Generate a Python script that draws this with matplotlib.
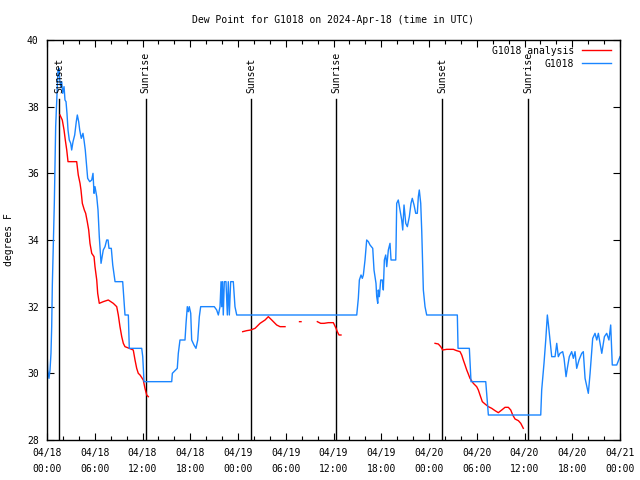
import numpy as np
import matplotlib
matplotlib.use("Agg")
import matplotlib.pyplot as plt
from matplotlib.ticker import MultipleLocator, FixedLocator

plt.rcParams['font.family'] = ['DejaVu Sans Mono']

# ---- data (hours since 2024-04-18 00:00 UTC) ----
obs_hours = [0.0, 0.09, 0.25, 0.38, 0.50, 0.59, 0.67, 0.79, 0.92, 1.09, 1.22, 1.38, 1.51, 1.60, 1.72,
             1.85, 1.97, 2.14, 2.26, 2.39, 2.51, 2.64, 2.80, 2.98, 3.10, 3.27, 3.48, 3.68, 3.81, 3.98,
             4.11, 4.31, 4.52, 4.65, 4.81, 4.99, 5.11, 5.37, 5.62, 5.78, 5.91, 6.03, 6.25, 6.41, 6.57,
             6.79, 7.07, 7.29, 7.50, 7.67, 7.79, 8.08, 8.26, 8.55, 9.51, 9.80, 10.22, 10.34, 11.90,
             12.03, 12.19, 15.67, 15.75, 16.37, 16.50, 16.71, 17.34, 17.47, 17.63, 17.76, 17.88,
             18.06, 18.18, 18.47, 18.72, 18.94, 19.14, 19.31, 21.02, 21.32, 21.53, 21.74, 21.87,
             21.95, 22.05, 22.15, 22.28, 22.49, 22.66, 22.78, 22.91, 23.08, 23.41, 23.62, 23.84,
             38.92, 39.12, 39.25, 39.46, 39.62, 39.75, 39.96, 40.17, 40.38, 40.59, 40.93, 41.09,
             41.34, 41.43, 41.56, 41.63, 41.76, 41.93, 42.13, 42.26, 42.39, 42.56, 42.69, 42.89,
             43.10, 43.23, 43.82, 43.86, 43.94, 44.14, 44.36, 44.57, 44.70, 44.86, 45.08, 45.28,
             45.53, 45.74, 45.90, 46.12, 46.33, 46.53, 46.66, 46.78, 46.96, 47.09, 47.29, 47.50,
             47.71, 51.56, 51.65, 53.07, 53.28, 55.13, 55.46, 62.04, 62.16, 62.45, 62.67, 62.87,
             62.99, 63.21, 63.42, 63.84, 64.05, 64.25, 64.46, 64.80, 64.97, 65.22, 65.38, 65.63,
             65.93, 66.14, 66.35, 66.56, 66.85, 67.19, 67.39, 67.61, 68.02, 68.24, 68.57, 68.86,
             69.08, 69.28, 69.71, 70.04, 70.33, 70.61, 70.83, 71.03, 71.59, 72.0]
obs_dewpt = [30.7, 30.1, 29.85, 30.1, 30.6, 31.4, 32.65, 33.85, 35.1, 37.4, 38.2, 39.1, 39.15, 38.8, 38.6,
             38.75, 38.4, 38.6, 38.2, 38.15, 37.8, 37.3, 37.0, 36.9, 36.7, 36.95, 37.15, 37.55, 37.75, 37.55,
             37.3, 37.05, 37.2, 37.0, 36.7, 36.2, 35.85, 35.75, 35.8, 36.0, 35.4, 35.6, 35.3, 34.9, 34.1,
             33.3, 33.7, 33.8, 34.0, 34.0, 33.75, 33.75, 33.25, 32.75, 32.75, 31.75, 31.75, 30.75, 30.75,
             30.5, 29.75, 29.75, 30.0, 30.15, 30.6, 31.0, 31.0, 31.5, 32.0, 31.85, 32.0,
             31.8, 31.0, 30.85, 30.75, 31.0, 31.7, 32.0, 32.0, 31.9, 31.75, 32.0, 32.75,
             32.0, 32.75, 31.75, 32.75, 32.75, 31.75, 32.75, 31.75, 32.75, 32.75, 32.0, 31.75,
             31.75, 32.25, 32.8, 32.95, 32.85, 32.95, 33.4, 34.0, 33.95, 33.85, 33.75, 33.1,
             32.7, 32.3, 32.1, 32.5, 32.3, 32.8, 32.8, 32.5, 33.4, 33.55, 33.2, 33.7,
             33.9, 33.4, 33.4, 33.8, 35.1, 35.2, 34.9, 34.6, 34.3, 35.05, 34.5, 34.4,
             34.7, 35.1, 35.25, 35.05, 34.8, 34.8, 35.3, 35.5, 35.1, 34.25, 32.5, 32.0,
             31.75, 31.75, 30.75, 30.75, 29.75, 29.75, 28.75, 28.75, 29.5, 30.3, 31.0, 31.75,
             31.5, 31.0, 30.5, 30.5, 30.9, 30.5, 30.6, 30.65, 30.45, 29.9, 30.15, 30.5,
             30.65, 30.45, 30.65, 30.15, 30.4, 30.6, 30.65, 29.85, 29.4, 30.0, 31.05, 31.2,
             31.0, 31.2, 30.6, 31.1, 31.2, 31.0, 31.45, 30.25, 30.25, 30.5]

ana_hours = [1.63, 1.92, 2.14, 2.30, 2.48, 2.64, 3.73, 3.93, 4.15, 4.27, 4.44, 4.69, 4.86, 5.06, 5.24,
             5.40, 5.62, 5.91, 6.03, 6.25, 6.37, 6.57, 7.07, 7.70, 8.33, 8.76, 8.96, 9.17, 9.39, 9.59,
             9.80, 10.34, 10.84, 11.06, 11.27, 11.47, 11.69, 12.10, 12.31, 12.53, 12.73, np.nan,
             24.59, 25.09, 25.60, 26.14, 26.77, 27.40, 27.81, 28.24, 28.86, 29.28, 29.91, np.nan,
             31.73, 31.92, np.nan,
             33.97, 34.39, 34.81, 35.35, 35.98, 36.32, 36.48, 36.69, 36.94, np.nan,
             48.76, 49.17, 49.47, 49.72, 50.23, 50.64, 51.06, 51.48, 51.90, 52.11, 52.31, 52.53,
             52.74, 52.94, 53.15, 53.57, 53.99, 54.20, 54.41, 54.70, 55.04, 55.46, 55.88, 56.30,
             56.71, 57.14, 57.55, 57.97, 58.27, 58.52, 58.81, 59.23, 59.53, 59.85]
ana_dewpt = [37.75, 37.6, 37.3, 37.0, 36.7, 36.35, 36.35, 35.95, 35.7, 35.5, 35.1, 34.9, 34.8, 34.55, 34.3,
             33.9, 33.6, 33.5, 33.2, 32.8, 32.4, 32.1, 32.15, 32.2, 32.1, 32.0, 31.75, 31.4, 31.1, 30.9,
             30.8, 30.75, 30.7, 30.4, 30.15, 30.0, 29.95, 29.8, 29.55, 29.35, 29.3, np.nan,
             31.25, 31.28, 31.3, 31.35, 31.5, 31.6, 31.7, 31.6, 31.45, 31.4, 31.4, np.nan,
             31.55, 31.55, np.nan,
             31.55, 31.5, 31.5, 31.52, 31.52, 31.35, 31.25, 31.15, 31.15, np.nan,
             30.9, 30.88, 30.8, 30.7, 30.72, 30.72, 30.72, 30.68, 30.65, 30.55, 30.4, 30.25,
             30.1, 29.98, 29.85, 29.7, 29.6, 29.5, 29.35, 29.15, 29.08, 29.0, 28.95, 28.88,
             28.82, 28.9, 28.98, 28.98, 28.9, 28.75, 28.63, 28.58, 28.5, 28.35]

sun_hours = [1.55, 12.38, 25.63, 36.32, 49.64, 60.44]
sun_labels = ["Sunset", "Sunrise", "Sunset", "Sunrise", "Sunset", "Sunrise"]

xtick_hours = [0, 6, 12, 18, 24, 30, 36, 42, 48, 54, 60, 66, 72]
xtick_labels = ["04/18\n00:00", "04/18\n06:00", "04/18\n12:00", "04/18\n18:00",
                "04/19\n00:00", "04/19\n06:00", "04/19\n12:00", "04/19\n18:00",
                "04/20\n00:00", "04/20\n06:00", "04/20\n12:00", "04/20\n18:00",
                "04/21\n00:00"]

# ---- figure ----
fig = plt.figure(figsize=(6.4, 4.8), dpi=100)
ax = fig.add_axes([47/640, 40/480, 573/640, 400/480])

FS = 7
for h, lab in zip(sun_hours, sun_labels):
    ax.plot([h, h], [28, 38.23], color='black', lw=1.0, zorder=1)
    ax.text(h, 38.41, lab, rotation=90, ha='center', va='bottom', fontsize=FS, zorder=3)

ax.plot(ana_hours, ana_dewpt, color='#ff0000', lw=1.0, label='G1018 analysis', zorder=2)
ax.plot(obs_hours, obs_dewpt, color='#1a85ff', lw=1.0, label='G1018', zorder=2)

ax.set_xlim(0, 72)
ax.set_ylim(28, 40)
ax.xaxis.set_major_locator(FixedLocator(xtick_hours))
ax.set_xticklabels(xtick_labels, linespacing=1.75)
ax.xaxis.set_minor_locator(MultipleLocator(2))
ax.yaxis.set_major_locator(MultipleLocator(2))
ax.tick_params(which='both', direction='in', top=True, right=True, labelsize=FS, width=0.8)
ax.tick_params(axis='x', which='major', pad=6)
ax.tick_params(axis='y', which='major', pad=6)
ax.tick_params(which='major', length=5)
ax.tick_params(which='minor', length=3)
for s in ax.spines.values():
    s.set_linewidth(1.0)

ax.set_title("Dew Point for G1018 on 2024-Apr-18 (time in UTC)", fontsize=FS, pad=12.5)
ax.set_ylabel("degrees F", fontsize=FS, labelpad=9)

leg = ax.legend(loc='upper right', frameon=False, fontsize=FS, markerfirst=False,
                handlelength=3.0, handletextpad=0.8, labelspacing=0.3,
                borderaxespad=0.2, bbox_to_anchor=(0.995, 1.0))

fig.savefig("out.png", dpi=100)
